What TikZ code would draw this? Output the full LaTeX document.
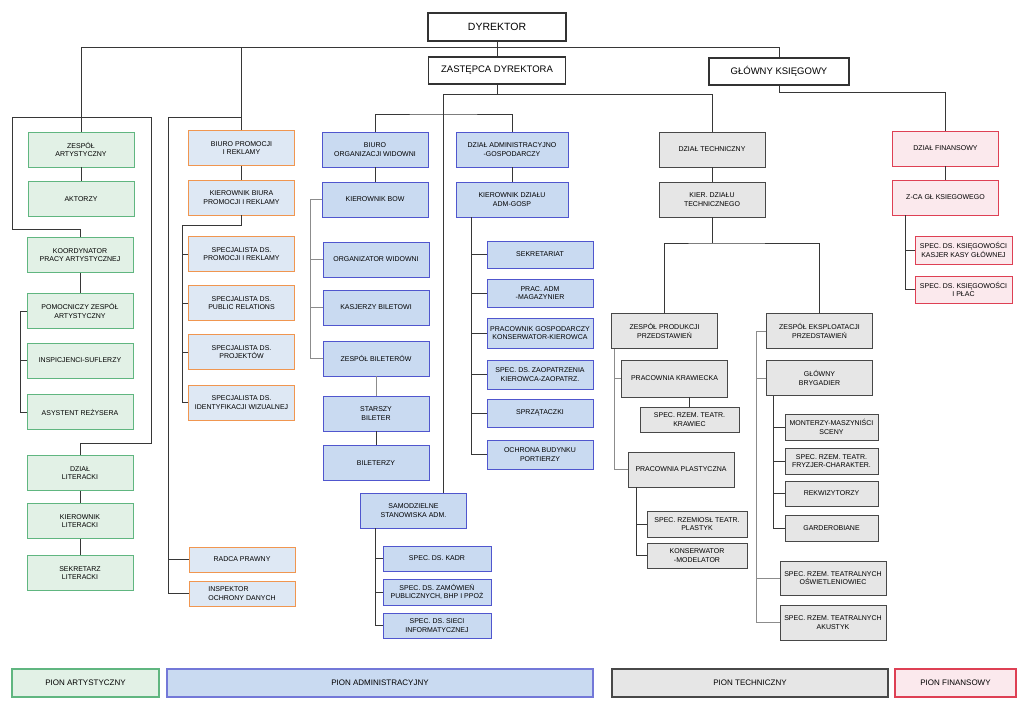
\documentclass[tikz,border=0pt]{standalone}
\usepackage{fontspec}
\setmainfont{Liberation Sans}
\usetikzlibrary{positioning, calc}
\definecolor{artfill}{RGB}{226,241,230}
\definecolor{artline}{RGB}{96,182,128}
\definecolor{promfill}{RGB}{222,232,244}
\definecolor{promline}{RGB}{240,150,80}
\definecolor{admfill}{RGB}{201,218,241}
\definecolor{admline}{RGB}{80,86,206}
\definecolor{techfill}{RGB}{230,230,230}
\definecolor{techline}{RGB}{72,72,72}
\definecolor{finfill}{RGB}{251,233,237}
\definecolor{finline}{RGB}{222,64,84}
\definecolor{linkcol}{RGB}{55,55,55}
\tikzset{%
	unit/.style={draw, rectangle, align=center, inner sep=1pt, minimum width=106pt,%
		minimum height=35pt, line width=0.9pt, font=\fontsize{7}{8.5}\selectfont},
	headbox/.style={unit, fill=white, draw=black!80, line width=1.1pt, font=\fontsize{9.5}{12}\selectfont},
	artbox/.style={unit, fill=artfill, draw=artline},
	prombox/.style={unit, fill=promfill, draw=promline},
	admbox/.style={unit, fill=admfill, draw=admline},
	techbox/.style={unit, fill=techfill, draw=techline},
	finbox/.style={unit, fill=finfill, draw=finline},
	sbox/.style={minimum width=98pt, minimum height=26pt},
	legbox/.style={unit, minimum height=28pt, line width=1.1pt, font=\fontsize{8}{10}\selectfont},
	link/.style={draw=linkcol, line width=0.8pt},
	glink/.style={draw=black!45, line width=0.8pt}
}
\begin{document}
\begin{tikzpicture}[x=1pt, y=-1pt]
	\useasboundingbox (0,0) rectangle (1024,723);
	% kierownictwo
	\node[headbox, minimum width=138pt, minimum height=28pt, font=\fontsize{10.5}{12}\selectfont] (dyr) at (497,27) {DYREKTOR};
	\node[headbox, minimum width=137pt, minimum height=27pt] (zast) at (497,70.5) {ZASTĘPCA DYREKTORA};
	\node[headbox, minimum width=140pt, minimum height=27pt] (glk)  at (779,71.5) {GŁÓWNY KSIĘGOWY};
	% pion artystyczny
	\node[artbox] (zart)    at (81,149.5) {ZESPÓŁ\\ARTYSTYCZNY};
	\node[artbox] (aktorzy) at (81,199)   {AKTORZY};
	\node[artbox] (koord)   at (80,255)   {KOORDYNATOR\\PRACY ARTYSTYCZNEJ};
	\node[artbox] (pomoc)   at (80,311)   {POMOCNICZY ZESPÓŁ\\ARTYSTYCZNY};
	\node[artbox] (inspic)  at (80,360.5) {INSPICJENCI-SUFLERZY};
	\node[artbox] (asyst)   at (80,412)   {ASYSTENT REŻYSERA};
	\node[artbox] (dzlit)   at (80,473)   {DZIAŁ\\LITERACKI};
	\node[artbox] (kierlit) at (80,521)   {KIEROWNIK\\LITERACKI};
	\node[artbox] (sekrlit) at (80,573)   {SEKRETARZ\\LITERACKI};
	% biuro promocji
	\node[prombox] (bpr)    at (241.5,148)   {BIURO PROMOCJI\\I REKLAMY};
	\node[prombox] (kbpr)   at (241.5,197.5) {KIEROWNIK BIURA\\PROMOCJI I REKLAMY};
	\node[prombox] (sp1)    at (241.5,254)   {SPECJALISTA DS.\\PROMOCJI I REKLAMY};
	\node[prombox] (sp2)    at (241.5,303)   {SPECJALISTA DS.\\PUBLIC RELATIONS};
	\node[prombox] (sp3)    at (241.5,352)   {SPECJALISTA DS.\\PROJEKTÓW};
	\node[prombox] (sp4)    at (241.5,402.5) {SPECJALISTA DS.\\IDENTYFIKACJI WIZUALNEJ};
	\node[prombox, minimum height=25pt] (radca)  at (242,559.5) {RADCA PRAWNY};
	\node[prombox, minimum height=25pt, align=left] (inspek) at (242,593.5) {INSPEKTOR\\OCHRONY DANYCH};
	% biuro organizacji widowni
	\node[admbox] (bow)     at (375,149.5) {BIURO\\ORGANIZACJI WIDOWNI};
	\node[admbox] (kbow)    at (375,199.5) {KIEROWNIK BOW};
	\node[admbox] (orgw)    at (376,259.5) {ORGANIZATOR WIDOWNI};
	\node[admbox] (kasj)    at (376,307.5) {KASJERZY BILETOWI};
	\node[admbox] (zbil)    at (376,358.5) {ZESPÓŁ BILETERÓW};
	\node[admbox] (starszy) at (376,413.5) {STARSZY\\BILETER};
	\node[admbox] (bilet)   at (376,463)   {BILETERZY};
	\node[admbox] (samodz)  at (413.5,510.5) {SAMODZIELNE\\STANOWISKA ADM.};
	\node[admbox, minimum width=108pt, minimum height=25pt] (kadr)  at (437,558.5) {SPEC. DS. KADR};
	\node[admbox, minimum width=108pt, minimum height=26pt] (zamow) at (437,592)   {SPEC. DS. ZAMÓWIEŃ\\PUBLICZNYCH, BHP I PPOŻ};
	\node[admbox, minimum width=108pt, minimum height=25pt] (sieci) at (437,625.5) {SPEC. DS. SIECI\\INFORMATYCZNEJ};
	% dzial administracyjno-gospodarczy
	\node[admbox, minimum width=112pt] (dadm) at (512,149.5) {DZIAŁ ADMINISTRACYJNO\\-GOSPODARCZY};
	\node[admbox, minimum width=112pt] (kadm) at (512,199.5) {KIEROWNIK DZIAŁU\\ADM-GOSP};
	\node[admbox, minimum height=27pt] (sekret)   at (540,254.5) {SEKRETARIAT};
	\node[admbox, minimum height=28pt] (pracadm)  at (540,293)   {PRAC. ADM\\-MAGAZYNIER};
	\node[admbox, minimum height=30pt] (pracgosp) at (540,333)   {PRACOWNIK GOSPODARCZY\\KONSERWATOR-KIEROWCA};
	\node[admbox, minimum height=29pt] (spzaop)   at (540,374.5) {SPEC. DS. ZAOPATRZENIA\\KIEROWCA-ZAOPATRZ.};
	\node[admbox, minimum height=28pt] (sprzat)   at (540,413)   {SPRZĄTACZKI};
	\node[admbox, minimum height=29pt] (ochrona)  at (540,454.5) {OCHRONA BUDYNKU\\PORTIERZY};
	% dzial techniczny
	\node[techbox] (dtech)  at (712,149.5) {DZIAŁ TECHNICZNY};
	\node[techbox] (kdtech) at (712,199.5) {KIER. DZIAŁU\\TECHNICZNEGO};
	\node[techbox] (zprod)  at (664.5,331) {ZESPÓŁ PRODUKCJI\\PRZEDSTAWIEŃ};
	\node[techbox, minimum height=37pt] (kraw) at (674.5,378.5) {PRACOWNIA KRAWIECKA};
	\node[techbox, sbox, minimum width=99pt, minimum height=25pt] (spkraw) at (689.5,419.5) {SPEC. RZEM. TEATR.\\KRAWIEC};
	\node[techbox] (plast)  at (681,469.5) {PRACOWNIA PLASTYCZNA};
	\node[techbox, sbox, minimum width=100pt] (plastyk) at (697,524) {SPEC. RZEMIOSŁ TEATR.\\PLASTYK};
	\node[techbox, sbox, minimum width=100pt, minimum height=25pt] (konserw) at (697,555.5) {KONSERWATOR\\-MODELATOR};
	\node[techbox] (zeksp)  at (819.5,331) {ZESPÓŁ EKSPLOATACJI\\PRZEDSTAWIEŃ};
	\node[techbox] (brygad) at (819.5,378) {GŁÓWNY\\BRYGADIER};
	\node[techbox, sbox, minimum width=93pt] (monterzy) at (831.5,427)   {MONTERZY-MASZYNIŚCI\\SCENY};
	\node[techbox, sbox, minimum width=93pt] (fryzjer)  at (831.5,461)   {SPEC. RZEM. TEATR.\\FRYZJER-CHARAKTER.};
	\node[techbox, sbox, minimum width=93pt, minimum height=25pt] (rekwiz) at (831.5,493.5) {REKWIZYTORZY};
	\node[techbox, sbox, minimum width=93pt] (garder)   at (831.5,528)   {GARDEROBIANE};
	\node[techbox, minimum height=34pt] (oswiet)  at (833,578)   {SPEC. RZEM. TEATRALNYCH\\OŚWIETLENIOWIEC};
	\node[techbox, minimum height=35pt] (akustyk) at (833,622.5) {SPEC. RZEM. TEATRALNYCH\\AKUSTYK};
	% dzial finansowy
	\node[finbox] (dfin) at (945.5,148.5) {DZIAŁ FINANSOWY};
	\node[finbox] (zca)  at (945.5,197.5) {Z-CA GŁ KSIEGOWEGO};
	\node[finbox, sbox, minimum width=97pt, minimum height=28pt] (kasjer) at (963.5,250)   {SPEC. DS. KSIĘGOWOŚCI\\KASJER KASY GŁÓWNEJ};
	\node[finbox, sbox, minimum width=97pt, minimum height=27pt] (plac)   at (963.5,289.5) {SPEC. DS. KSIĘGOWOŚCI\\I PŁAC};
	% legenda
	\node[legbox, fill=artfill, draw=artline, minimum width=147pt]   (leg1) at (85.5,683)  {PION ARTYSTYCZNY};
	\node[legbox, fill=admfill, draw=admline!80, minimum width=426pt] (leg2) at (380,683) {PION ADMINISTRACYJNY};
	\node[legbox, fill=techfill, draw=techline, minimum width=276pt] (leg3) at (750,683)  {PION TECHNICZNY};
	\node[legbox, fill=finfill, draw=finline, minimum width=121pt]   (leg4) at (955.5,683){PION FINANSOWY};

	% polaczenia
	\coordinate (jd) at (497,47);
	\coordinate (fl) at (12,117);
	\coordinate (fr) at (151,117);
	\coordinate (ol) at (168,117);
	\coordinate (ob) at (182,225);
	\coordinate (jz) at (443,94);
	\coordinate (jb) at (443,114);
	\coordinate (jt) at (712,243);
	\coordinate (jf) at (0,92);
	\draw[link] (dyr.south) -- (zast.north);
	\draw[link] (zart.north) -- (zart.north |- jd) -| (glk.north);
	\draw[link] (bpr.north) -- (bpr.north |- jd);
	% pion artystyczny
	\draw[link] (koord.north) -- ++(0,-8) -| (fl) -- (fr) |- ($(dzlit.north)+(0,-12)$) -- (dzlit.north);
	\draw[link] (zart) -- (aktorzy);
	\draw[link] (koord) -- (pomoc);
	\draw[link] (pomoc.west) -- ++(-6,0) |- (asyst.west);
	\draw[link] (inspic.west) -- ++(-6,0);
	\draw[link] (dzlit) -- (kierlit);
	\draw[link] (kierlit) -- (sekrlit);
	% promocja
	\draw[link] (bpr.north |- ol) -- (ol) |- (inspek.west);
	\draw[link] (radca.west) -- (radca.west -| ol);
	\draw[link] (bpr) -- (kbpr);
	\draw[link] (kbpr.south) |- (ob) |- (sp4.west);
	\foreach \n in {sp1, sp2, sp3}
		\draw[link] (\n.west) -- (\n.west -| ob);
	% administracja
	\draw[link] (zast.south) -- (zast.south |- jz);
	\draw[link] (samodz.north -| jz) -- (jz) -| (dtech.north);
	\draw[link] (bow.north) |- (jb) -| (dadm.north);
	\draw[link] (bow) -- (kbow);
	\draw[glink] (kbow.west) -| ($(zbil.west)+(-12,0)$) -- (zbil.west);
	\foreach \n in {orgw, kasj}
		\draw[glink] (\n.west) -- ++(-12,0);
	\draw[glink] (zbil) -- (starszy);
	\draw[link] (starszy) -- (bilet);
	\draw[link] (samodz.south -| bow) |- (sieci.west);
	\foreach \n in {kadr, zamow}
		\draw[link] (\n.west) -- (\n.west -| bow);
	\draw[link] (dadm) -- (kadm);
	\draw[link] ($(kadm.south west)+(16,0)$) |- (ochrona.west);
	\foreach \n in {sekret, pracadm, pracgosp, spzaop, sprzat}
		\draw[link] (\n.west) -- ++(-15,0);
	% technika
	\draw[link] (dtech) -- (kdtech);
	\draw[link] (kdtech.south) -- (jt);
	\draw[link] (zprod.north) |- (jt) -| (zeksp.north);
	\draw[glink] ($(zprod.south west)+(3,0)$) |- (plast.west);
	\draw[glink] (kraw.west) -- ++(-6,0);
	\draw[link] (spkraw.north) -- (spkraw.north |- kraw.south);
	\draw[link] ($(plast.south west)+(9,0)$) |- (konserw.west);
	\draw[link] (plastyk.west) -- ++(-10,0);
	\draw[glink] (zeksp.west) -- ++(-10,0) |- (akustyk.west);
	\foreach \n in {brygad, oswiet}
		\draw[glink] (\n.west) -| ($(zeksp.west)+(-10,0)$);
	\draw[link] ($(brygad.south west)+(7,0)$) |- (garder.west);
	\foreach \n in {monterzy, fryzjer, rekwiz}
		\draw[link] (\n.west) -- ++(-11,0);
	% finanse
	\draw[link] (glk.south) |- (dfin.north |- jf) -- (dfin.north);
	\draw[link] (dfin) -- (zca);
	\draw[link] ($(zca.south west)+(13,0)$) |- (plac.west);
	\draw[link] (kasjer.west) -- ++(-9,0);
\end{tikzpicture}
\end{document}
